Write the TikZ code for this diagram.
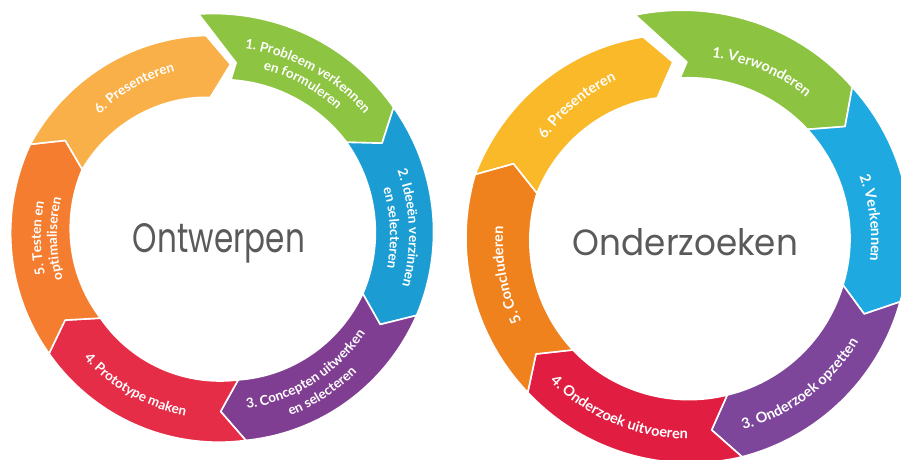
\documentclass[tikz,border=0pt]{standalone}
\usepackage{fontspec}
\usetikzlibrary{decorations.text}
\newfontfamily\latofont{Lato}
\newfontfamily\titlefont{Poppins}
\definecolor{gL}{RGB}{141,196,66}
\definecolor{bL}{RGB}{27,157,212}
\definecolor{pL}{RGB}{128,62,146}
\definecolor{rL}{RGB}{230,45,72}
\definecolor{oL}{RGB}{245,125,48}
\definecolor{yL}{RGB}{250,176,72}
\definecolor{gR}{RGB}{140,195,65}
\definecolor{bR}{RGB}{30,170,225}
\definecolor{pR}{RGB}{125,70,155}
\definecolor{rR}{RGB}{225,30,65}
\definecolor{oR}{RGB}{240,130,30}
\definecolor{yR}{RGB}{250,185,40}
\definecolor{titlegray}{RGB}{90,90,90}
\pgfkeys{/seg/.cd,
  a1/.code={\def\sgaso{#1}\def\sgasi{#1}},
  a2/.code={\def\sgaeo{#1}\def\sgaei{#1}},
  aso/.store in=\sgaso, asi/.store in=\sgasi,
  aeo/.store in=\sgaeo, aei/.store in=\sgaei,
  an/.store in=\sgan, at/.store in=\sgat,
  ros/.store in=\sgros, ris/.store in=\sgris,
  roe/.store in=\sgroe, rie/.store in=\sgrie,
  rn/.store in=\sgrn, rt/.store in=\sgrt,
  col/.store in=\sgcol}
\newcommand\segment[1]{%
  \def\sgrn{}\def\sgrt{}%
  \pgfqkeys{/seg}{#1}%
  \ifx\sgrn\empty\pgfmathsetmacro\sgrn{(\sgris+\sgros)/2}\fi
  \ifx\sgrt\empty\pgfmathsetmacro\sgrt{(\sgrie+\sgroe)/2}\fi
  \path[fill=\sgcol, draw=white, line width=1.6pt, line join=round]
    plot[domain=\sgaso:\sgaeo, samples=60, variable=\t]
      ({(\sgros+(\sgroe-\sgros)*(\t-\sgaso)/(\sgaeo-\sgaso))*cos(\t)},
       {(\sgros+(\sgroe-\sgros)*(\t-\sgaso)/(\sgaeo-\sgaso))*sin(\t)})
    -- (\sgat:\sgrt)
    -- plot[domain=\sgaei:\sgasi, samples=60, variable=\t]
      ({(\sgrie+(\sgris-\sgrie)*(\t-\sgaei)/(\sgasi-\sgaei))*cos(\t)},
       {(\sgrie+(\sgris-\sgrie)*(\t-\sgaei)/(\sgasi-\sgaei))*sin(\t)})
    -- (\sgan:\sgrn) -- cycle;}
\newcommand\lbfontL{\latofont\bfseries\fontsize{13.5}{14}\selectfont\color{white}}
\newcommand\lbfontR{\latofont\bfseries\fontsize{14.5}{15}\selectfont\color{white}}
% clockwise label: font, centre angle, baseline radius, text
\newcommand\cwlabel[4]{%
  \path[decorate, decoration={text along path, text align=center, text={|#1|#4}}]
    (#2+60:#3) arc[start angle=#2+60, end angle=#2-60, radius=#3pt];}
% counter-clockwise label
\newcommand\ccwlabel[4]{%
  \path[decorate, decoration={text along path, text align=center, text={|#1|#4}}]
    (#2-60:#3) arc[start angle=#2-60, end angle=#2+60, radius=#3pt];}
\begin{document}
\begin{tikzpicture}[x=1pt, y=1pt]
\useasboundingbox (0,0) rectangle (901,459);
% ---------------- left: Ontwerpen ----------------
\begin{scope}[shift={(220,223)}]
\segment{col=gL, aso=95.5, asi=86, an=84.7, rn=174, a2=36.5, at=29.8, ros=223, ris=156.5, roe=216, rie=157.5}
\segment{col=bL, a1=36.5, an=29.8, a2=-22, at=-28.9, ros=216, ris=157.5, roe=212, rie=154}
\segment{col=pL, a1=-22, an=-28.9, a2=-82.8, at=-89.8, ros=212, ris=154, roe=206, rie=145}
\segment{col=rL, a1=-82.8, an=-89.8, a2=-145.5, at=-151.5, ros=206, ris=145, roe=207.5, rie=145}
\segment{col=oL, a1=214.5, an=208.5, a2=154.2, at=148.3, ros=207.5, ris=145, roe=210.7, rie=153}
\segment{col=yL, a1=154.2, an=148.3, a2=94, at=86.5, rt=172, ros=210.7, ris=153, roe=201, rie=139}
\cwlabel{\lbfontL}{61.3}{189}{1. Probleem verkennen}
\cwlabel{\lbfontL}{61.3}{172}{en formuleren}
\cwlabel{\lbfontL}{2.4}{189}{2. Ideeën verzinnen}
\cwlabel{\lbfontL}{2.7}{170}{en selecteren}
\ccwlabel{\lbfontL}{-57.5}{175}{3. Concepten uitwerken}
\ccwlabel{\lbfontL}{-56.7}{193}{en selecteren}
\ccwlabel{\lbfontL}{-119.5}{183}{4. Prototype maken}
\cwlabel{\lbfontL}{180.7}{179}{5. Testen en}
\cwlabel{\lbfontL}{181}{163}{optimaliseren}
\cwlabel{\lbfontL}{120}{171}{6. Presenteren}
\end{scope}
\node[anchor=base, text=titlegray, inner sep=0pt] (tL) at (219,207)
  {\resizebox{172pt}{29pt}{\titlefont Ontwerpen}};
% ---------------- right: Onderzoeken ----------------
\begin{scope}[shift={(690,219)}]
\segment{col=gR, aso=103.7, asi=93.5, an=91, rn=178, a2=43.3, at=36.2, ros=231.6, ris=162.3, roe=223, rie=161.3}
\segment{col=bR, a1=43.3, an=36.2, a2=-16.4, at=-23, ros=223, ris=161.3, roe=219, rie=159.5}
\segment{col=pR, a1=-16.4, an=-23, a2=-76.5, at=-83.5, ros=219, ris=159.5, roe=223, rie=159.4}
\segment{col=rR, a1=-76.5, an=-83.5, a2=-136.8, at=-143.5, ros=223, ris=159.4, roe=222.6, rie=160.6}
\segment{col=oR, a1=223.2, an=216.5, a2=163, at=156.6, ros=222.6, ris=160.6, roe=224.6, rie=160}
\segment{col=yR, a1=163, an=156.6, a2=103, at=95.5, rt=178.8, ros=224.6, ris=160, roe=208.4, rie=145.8}
\cwlabel{\lbfontR}{67}{184}{1. Verwonderen}
\cwlabel{\lbfontR}{7}{181}{2. Verkennen}
\ccwlabel{\lbfontR}{-52.7}{197}{3. Onderzoek opzetten}
\ccwlabel{\lbfontR}{-112.7}{199}{4. Onderzoek uitvoeren}
\cwlabel{\lbfontR}{190.8}{187}{5. Concluderen}
\cwlabel{\lbfontR}{130}{176}{6. Presenteren}
\end{scope}
\node[anchor=base, text=titlegray, inner sep=0pt] (tR) at (685.5,204)
  {\resizebox{225pt}{27pt}{\titlefont Onderzoeken}};
\end{tikzpicture}
\end{document}
